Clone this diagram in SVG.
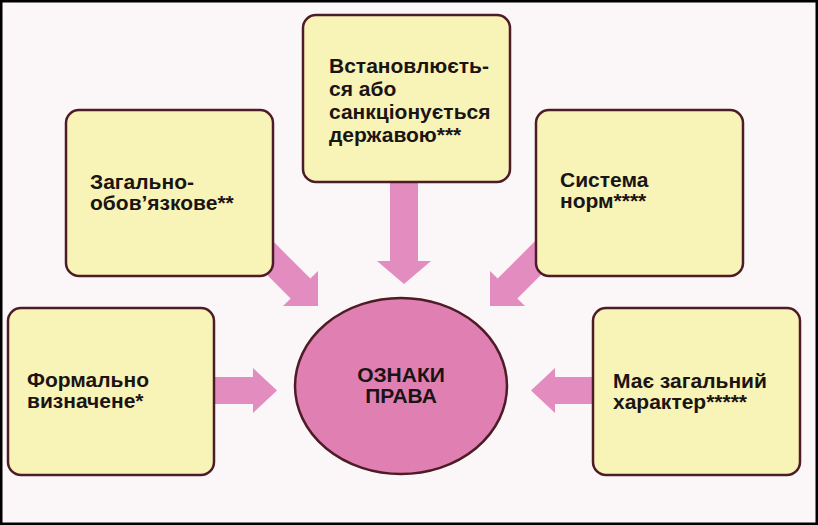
<svg xmlns="http://www.w3.org/2000/svg" xmlns:xlink="http://www.w3.org/1999/xlink" width="818" height="525" viewBox="0 0 818 525">
<style>
.box{fill:#f8f3b6;stroke:#4e1c26;stroke-width:2.5}
.arrow{fill:#e38cc0}
.t{font-family:"Liberation Sans",Arial,sans-serif;font-weight:bold;font-size:21px;fill:#1a1414}
.c{text-anchor:middle}
</style>
<defs>
<polygon id="diag" points="271.9,240.1 310.4,278.6 318,271 318,306 283,306 290.6,298.4 252.1,259.9"/>
<polygon id="horiz" points="205,377 253,377 253,368 277,390.5 253,413 253,404 205,404"/>
</defs>
<rect x="0" y="0" width="818" height="525" fill="#fbf7f8"/>
<rect x="1" y="1" width="816" height="523" fill="none" stroke="#000" stroke-width="3"/>
<g id="connectors">
<use href="#diag" class="arrow"/>
<use href="#diag" class="arrow" transform="translate(808,0) scale(-1,1)"/>
<use href="#horiz" class="arrow"/>
<use href="#horiz" class="arrow" transform="translate(808,0) scale(-1,1)"/>
<polygon class="arrow" points="390,180 418,180 418,261 431,261 404,284 377,261 390,261"/>
</g>
<g id="top">
<rect class="box" x="303" y="15" width="207" height="167" rx="13"/>
<text class="t" x="329" y="73">Встановлюєть-</text>
<text class="t" x="329" y="96">ся або</text>
<text class="t" x="329" y="119">санкціонується</text>
<text class="t" x="329" y="142">державою***</text>
</g>
<g id="upper-left">
<rect class="box" x="66" y="110" width="207" height="166" rx="13"/>
<text class="t" x="90" y="189">Загально-</text>
<text class="t" x="90" y="210">обов’язкове**</text>
</g>
<g id="upper-right">
<rect class="box" x="536" y="110" width="207" height="166" rx="13"/>
<text class="t" x="560" y="187">Система</text>
<text class="t" x="560" y="208">норм****</text>
</g>
<g id="lower-left">
<rect class="box" x="8" y="308" width="206" height="167" rx="13"/>
<text class="t" x="27" y="387">Формально</text>
<text class="t" x="27" y="408">визначене*</text>
</g>
<g id="lower-right">
<rect class="box" x="593" y="308" width="207" height="167" rx="13"/>
<text class="t" x="613" y="388">Має загальний</text>
<text class="t" x="613" y="409">характер*****</text>
</g>
<g id="center">
<ellipse cx="401" cy="386" rx="106" ry="88" fill="#e07fb2" stroke="#4e1c26" stroke-width="2.5"/>
<text class="t c" x="401" y="382">ОЗНАКИ</text>
<text class="t c" x="401" y="403">ПРАВА</text>
</g>
</svg>
